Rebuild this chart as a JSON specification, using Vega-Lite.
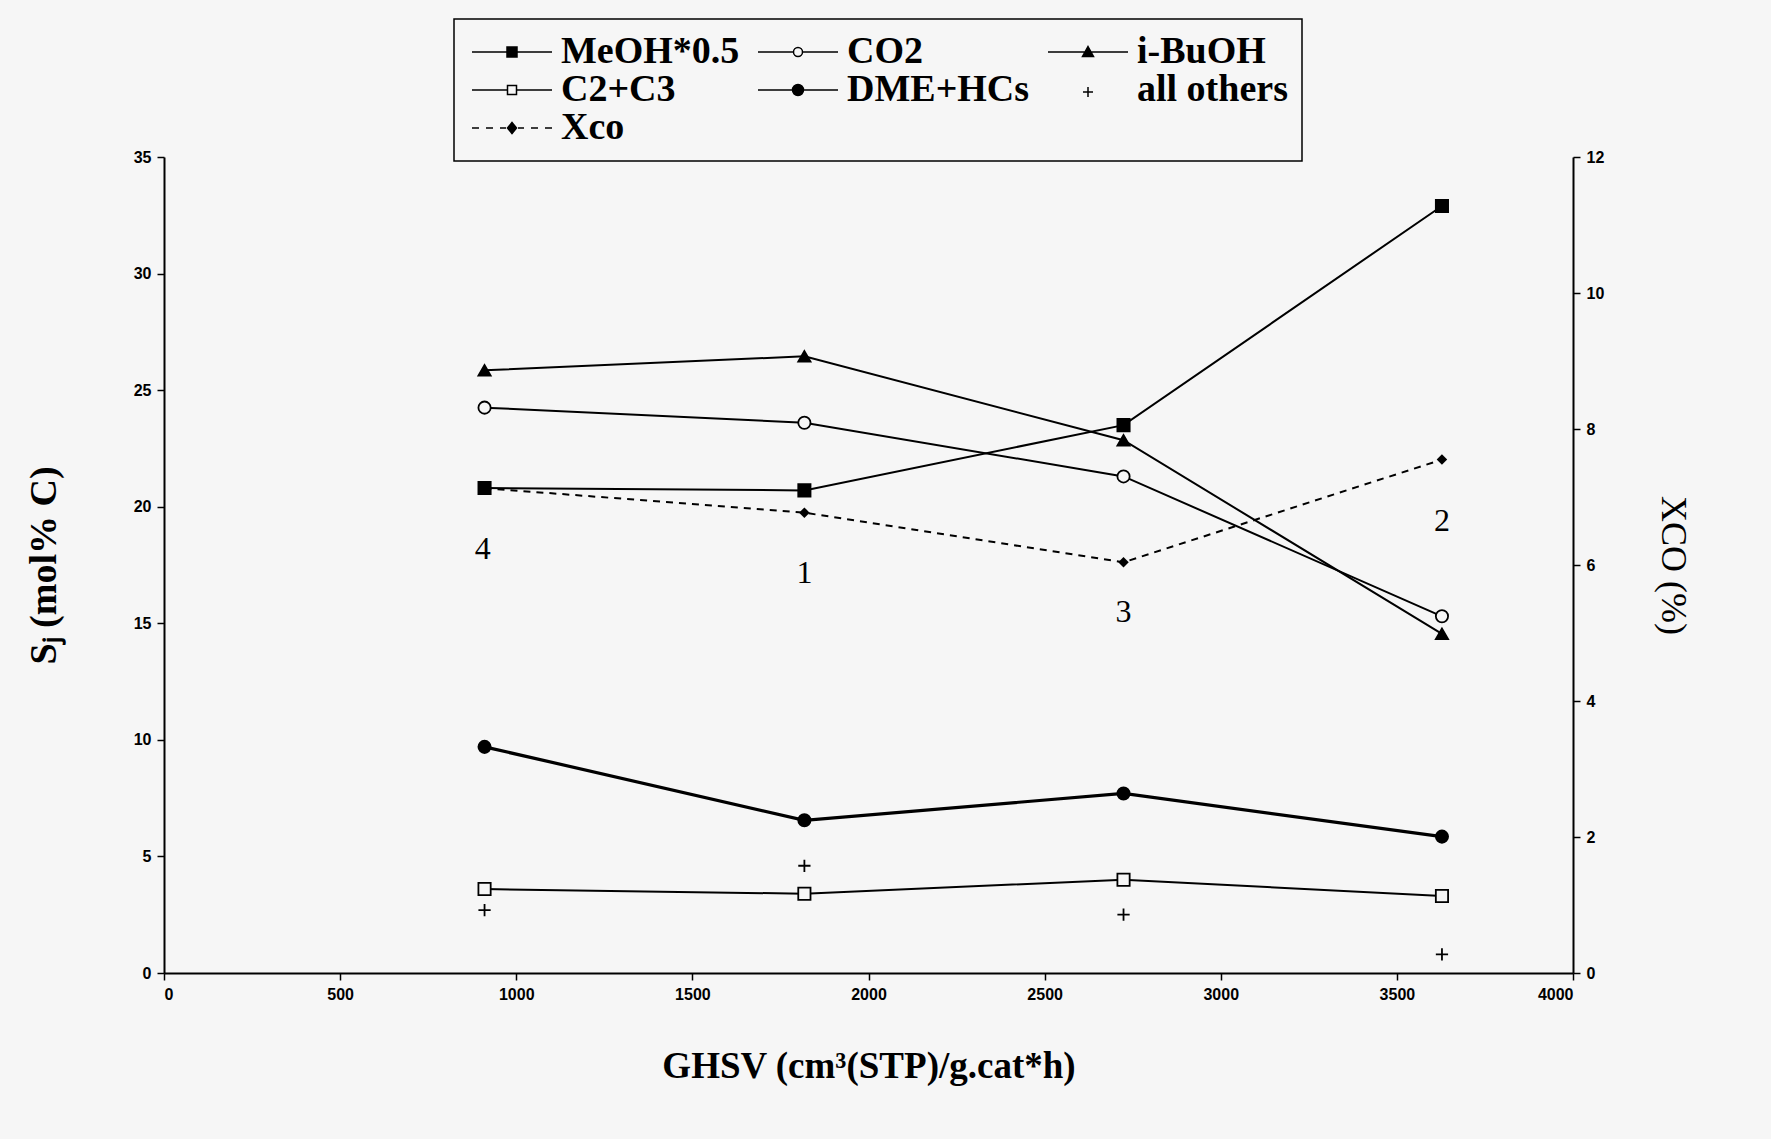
{
  "$schema": "https://vega.github.io/schema/vega-lite/v6.json",
  "width": 1409,
  "height": 816,
  "autosize": {"type": "none"},
  "padding": {"left": 164, "top": 157, "right": 198, "bottom": 166},
  "background": "#f6f6f6",
  "config": {
    "view": {"stroke": null},
    "legend": {"strokeWidth": 1.5},
    "axis": {
      "domainColor": "black",
      "domainWidth": 2,
      "tickColor": "black",
      "tickWidth": 1.5,
      "tickSize": 7,
      "labelFont": "Liberation Sans",
      "labelFontWeight": "bold",
      "labelFontSize": 16,
      "labelColor": "black",
      "titleColor": "black",
      "titleFont": "Liberation Serif",
      "grid": false
    }
  },
  "datasets": {
    "sel": [
      {"ghsv": 910, "series": "MeOH*0.5", "value": 20.8},
      {"ghsv": 1818, "series": "MeOH*0.5", "value": 20.7},
      {"ghsv": 2724, "series": "MeOH*0.5", "value": 23.5},
      {"ghsv": 3628, "series": "MeOH*0.5", "value": 32.9},
      {"ghsv": 910, "series": "CO2", "value": 24.25},
      {"ghsv": 1818, "series": "CO2", "value": 23.6},
      {"ghsv": 2724, "series": "CO2", "value": 21.3},
      {"ghsv": 3628, "series": "CO2", "value": 15.3},
      {"ghsv": 910, "series": "i-BuOH", "value": 25.85},
      {"ghsv": 1818, "series": "i-BuOH", "value": 26.45},
      {"ghsv": 2724, "series": "i-BuOH", "value": 22.85},
      {"ghsv": 3628, "series": "i-BuOH", "value": 14.55},
      {"ghsv": 910, "series": "C2+C3", "value": 3.6},
      {"ghsv": 1818, "series": "C2+C3", "value": 3.4},
      {"ghsv": 2724, "series": "C2+C3", "value": 4.0},
      {"ghsv": 3628, "series": "C2+C3", "value": 3.3},
      {"ghsv": 910, "series": "DME+HCs", "value": 9.7},
      {"ghsv": 1818, "series": "DME+HCs", "value": 6.55},
      {"ghsv": 2724, "series": "DME+HCs", "value": 7.7},
      {"ghsv": 3628, "series": "DME+HCs", "value": 5.85},
      {"ghsv": 910, "series": "all others", "value": 2.7},
      {"ghsv": 1818, "series": "all others", "value": 4.6},
      {"ghsv": 2724, "series": "all others", "value": 2.5},
      {"ghsv": 3628, "series": "all others", "value": 0.8}
    ],
    "xco": [
      {"ghsv": 910, "xco": 7.13},
      {"ghsv": 1818, "xco": 6.77},
      {"ghsv": 2724, "xco": 6.04},
      {"ghsv": 3628, "xco": 7.55}
    ],
    "runs": [
      {"ghsv": 905, "value": 18.2, "run": "4"},
      {"ghsv": 1818, "value": 17.15, "run": "1"},
      {"ghsv": 2724, "value": 15.47, "run": "3"},
      {"ghsv": 3628, "value": 19.37, "run": "2"}
    ]
  },
  "encoding": {
    "x": {
      "field": "ghsv",
      "type": "quantitative",
      "scale": {"domain": [0, 4000], "nice": false},
      "axis": {
        "values": [0, 500, 1000, 1500, 2000, 2500, 3000, 3500, 4000],
        "format": "d",
        "title": "GHSV (cm³(STP)/g.cat*h)",
        "titleFontSize": 37,
        "titleFontWeight": "bold",
        "titlePadding": 46,
        "labelPadding": 6
      }
    }
  },
  "layer": [
    {
      "encoding": {
        "y": {
          "field": "value",
          "type": "quantitative",
          "scale": {"domain": [0, 35], "nice": false},
          "axis": {
            "values": [0, 5, 10, 15, 20, 25, 30, 35],
            "title": "Sⱼ (mol% C)",
            "titleFontSize": 38,
            "titleFontWeight": "bold",
            "titlePadding": 70,
            "labelPadding": 6
          }
        }
      },
      "layer": [
        {
          "data": {"name": "sel"},
          "transform": [{"filter": "datum.series !== 'all others'"}],
          "mark": {"type": "line", "color": "black"},
          "encoding": {
            "detail": {"field": "series", "type": "nominal"},
            "strokeWidth": {
              "condition": {"test": "datum.series === 'DME+HCs'", "value": 3.2},
              "value": 2
            }
          }
        },
        {
          "data": {"name": "sel"},
          "mark": {"type": "point", "stroke": "black", "strokeWidth": 1.8, "opacity": 1, "size": 150},
          "encoding": {
            "shape": {
              "field": "series",
              "type": "nominal",
              "scale": {
                "domain": ["MeOH*0.5", "CO2", "i-BuOH", "C2+C3", "DME+HCs", "all others"],
                "range": ["square", "circle", "triangle-up", "square", "circle", "M-1,0H1M0,-1V1"]
              },
              "legend": null
            },
            "fill": {
              "field": "series",
              "type": "nominal",
              "scale": {
                "domain": ["MeOH*0.5", "CO2", "i-BuOH", "C2+C3", "DME+HCs", "all others"],
                "range": ["black", "#f6f6f6", "black", "#f6f6f6", "black", "transparent"]
              },
              "legend": null
            }
          }
        },
        {
          "data": {"name": "runs"},
          "mark": {"type": "text", "font": "Liberation Serif", "fontSize": 32, "color": "black", "baseline": "middle", "align": "center"},
          "encoding": {"text": {"field": "run", "type": "nominal"}}
        },
        {
          "data": {"name": "sel"},
          "transform": [{"filter": "false"}],
          "mark": {"type": "point", "stroke": "black", "strokeWidth": 1.8, "opacity": 1},
          "encoding": {
            "shape": {
              "field": "series",
              "type": "nominal",
              "scale": {
                "domain": ["MeOH*0.5", "CO2", "i-BuOH", "C2+C3", "DME+HCs", "all others", "Xco"],
                "range": [
                  "M-4,0H4M-0.5,-0.5H0.5V0.5H-0.5Z",
                  "M-4,0H-0.45M0.45,0H4M-0.45,0A0.45,0.45 0 1,0 0.45,0A0.45,0.45 0 1,0 -0.45,0Z",
                  "M-4,0H4M0,-0.55L0.55,0.45H-0.55Z",
                  "M-4,0H-0.45M0.45,0H4M-0.45,-0.45H0.45V0.45H-0.45Z",
                  "M-4,0H4M-0.55,0A0.55,0.55 0 1,0 0.55,0A0.55,0.55 0 1,0 -0.55,0Z",
                  "M-0.5,0.2H0.5M0,-0.3V0.7",
                  "M-4,0H-3.3M-2.6,0H-1.9M-1.2,0H-0.6M0.6,0H1.2M1.9,0H2.6M3.3,0H4M0,-0.55L0.45,0L0,0.55L-0.45,0Z"
                ]
              },
              "legend": {
                "title": null,
                "orient": "none",
                "direction": "horizontal",
                "legendX": 290,
                "legendY": -138,
                "columns": 3,
                "strokeColor": "black",
                "padding": 14,
                "labelFont": "Liberation Serif",
                "labelFontSize": 38,
                "labelFontWeight": "bold",
                "labelColor": "black",
                "labelLimit": 500,
                "labelOffset": 30,
                "symbolOffset": 25,
                "columnPadding": 14,
                "rowPadding": 0,
                "symbolSize": 400,
                "encode": {
                  "symbols": {
                    "update": {
                      "stroke": {"value": "black"},
                      "strokeWidth": {"value": 1.8},
                      "opacity": {"value": 1}
                    }
                  }
                }
              }
            },
            "fill": {
              "field": "series",
              "type": "nominal",
              "scale": {
                "domain": ["MeOH*0.5", "CO2", "i-BuOH", "C2+C3", "DME+HCs", "all others", "Xco"],
                "range": ["black", "#f6f6f6", "black", "#f6f6f6", "black", "transparent", "black"]
              }
            }
          }
        }
      ],
      "resolve": {"scale": {"shape": "independent", "fill": "independent"}}
    },
    {
      "data": {"name": "xco"},
      "encoding": {
        "y": {
          "field": "xco",
          "type": "quantitative",
          "scale": {"domain": [0, 12], "nice": false},
          "axis": {
            "orient": "right",
            "values": [0, 2, 4, 6, 8, 10, 12],
            "title": "XCO (%)",
            "titleAngle": 90,
            "titleFontSize": 36,
            "titleFontWeight": "normal",
            "titlePadding": 50,
            "labelPadding": 6
          }
        }
      },
      "layer": [
        {
          "mark": {"type": "line", "color": "black", "strokeWidth": 2, "strokeDash": [7, 6]},
          "encoding": {}
        },
        {
          "mark": {"type": "point", "shape": "diamond", "filled": true, "color": "black", "opacity": 1, "size": 110},
          "encoding": {}
        }
      ]
    }
  ],
  "resolve": {"scale": {"y": "independent"}}
}
